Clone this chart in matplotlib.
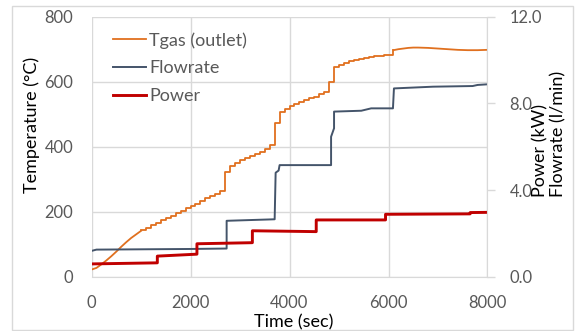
import matplotlib
matplotlib.use("Agg")
import matplotlib.pyplot as plt
from matplotlib.patches import Rectangle

# ---------------- data ----------------
# Tgas (outlet), smooth start (sec, degC)
tgas_start_t = [0, 100, 200, 300, 400, 500, 600, 700, 800, 900, 1000]
tgas_start_v = [22, 27, 38, 50, 63, 77, 92, 106, 119, 130, 141]
# stepped middle part (sec, degC)
tgas_step_t = [1000, 1100, 1200, 1300, 1400, 1500, 1600, 1700, 1800, 1900,
               2000, 2100, 2200, 2300, 2400, 2500, 2600, 2700, 2800, 2900,
               3000, 3100, 3200, 3300, 3400, 3500, 3600, 3700, 3800, 3900,
               4000, 4100, 4200, 4300, 4400, 4500, 4600, 4700, 4800, 4900,
               5000, 5100, 5200, 5300, 5400, 5500, 5600, 5700, 5800, 5900,
               6000, 6100]
tgas_step_v = [143, 150, 158, 166, 174, 181, 188, 195, 203, 210,
               218, 225, 233, 241, 249, 256, 264, 323, 340, 350,
               358, 364, 371, 377, 384, 392, 405, 474, 508, 516,
               524, 531, 538, 544, 549, 554, 561, 569, 600, 646,
               652, 658, 663, 667, 671, 674, 676, 678, 680, 681,
               683, 697]
# smooth end (sec, degC)
tgas_end_t = [6100, 6200, 6300, 6400, 6500, 6600, 6800, 7000, 7200, 7400, 7600, 7800, 8000]
tgas_end_v = [697, 700, 702, 704, 705, 705, 704, 702, 700, 698, 697, 697, 698]

# Flowrate (sec, l/min)
flow_t = [0, 100, 2000, 2730, 2730, 3700, 3720, 3780, 3800, 4840, 4840, 4900, 4900,
          5450, 5650, 6090, 6110, 6900, 7700, 7800, 8000]
flow_v = [1.19, 1.25, 1.28, 1.30, 2.58, 2.65, 4.80, 4.90, 5.15, 5.15, 6.46, 6.85, 7.62,
          7.66, 7.77, 7.77, 8.69, 8.77, 8.80, 8.85, 8.88]

# Power (sec, kW)
power_t = [0, 1330, 1330, 2130, 2130, 3250, 3250, 4540, 4540, 5940, 5940, 7650, 7650, 8000]
power_v = [0.59, 0.64, 0.95, 1.04, 1.52, 1.57, 2.12, 2.08, 2.62, 2.62, 2.88, 2.90, 2.96, 2.97]

x_ticks = [0, 2000, 4000, 6000, 8000]
t_ticks = [0, 200, 400, 600, 800]
r_ticks = [0.0, 4.0, 8.0, 12.0]

# ---------------- style ----------------
plt.rcParams['font.family'] = ['Lato', 'DejaVu Sans']
W, H = 581, 331
fig = plt.figure(figsize=(W / 100, H / 100), dpi=100)

def fx(px):
    return px / W

def fy(py):
    return 1 - py / H

# outer border
fig.patches.append(Rectangle((fx(12), fy(330)), fx(573) - fx(12), fy(5.7) - fy(330),
                             transform=fig.transFigure, fill=False,
                             edgecolor='#D9D9D9', linewidth=1.0))

L, R, T, B = 91.5, 487.5, 16.7, 276.7
ax = fig.add_axes([fx(L), fy(B), fx(R) - fx(L), fy(T) - fy(B)])
ax2 = ax.twinx()

c_tgas = '#E0701F'
c_flow = '#44546A'
c_pow = '#C00000'
c_grid = '#D9D9D9'
c_tick = '#595959'

l1, = ax.plot(tgas_start_t, tgas_start_v, color=c_tgas, lw=1.3)
ax.plot(tgas_step_t, tgas_step_v, color=c_tgas, lw=1.3, drawstyle='steps-post')
ax.plot(tgas_end_t, tgas_end_v, color=c_tgas, lw=1.3)

l2, = ax2.plot(flow_t, flow_v, color=c_flow, lw=1.4)
l3, = ax2.plot(power_t, power_v, color=c_pow, lw=2.1)

ax.set_xlim(0, 8000)
ax.set_ylim(0, 800)
ax2.set_ylim(0, 12)
ax.set_xticks(x_ticks)
ax.set_yticks(t_ticks)
ax2.set_yticks(r_ticks)
ax2.set_yticklabels([f'{v:.1f}' for v in r_ticks])

ax.grid(True, color=c_grid, lw=1.0)
ax.set_axisbelow(True)
for s in ['top', 'right', 'left']:
    ax.spines[s].set_visible(False)
ax.spines['bottom'].set_color(c_grid)
for s in ['top', 'left', 'bottom']:
    ax2.spines[s].set_visible(False)
ax2.spines['right'].set_color(c_grid)

ax.tick_params(axis='x', length=0, pad=13, labelsize=11.9, labelcolor=c_tick)
ax.tick_params(axis='y', length=0, pad=13, labelsize=11.9, labelcolor=c_tick)
ax2.tick_params(axis='y', length=6, width=1, color=c_grid, pad=10, labelsize=11.9,
                labelcolor=c_tick)

# axis titles
fig.text(fx(31.5), fy(125), 'Temperature (°C)', rotation=90, ha='center', va='center',
         fontsize=13, color='black')
fig.text(fx(294), fy(322), 'Time (sec)', ha='center', va='center', fontsize=13, color='black')
fig.text(fx(549), fy(197), 'Power (kW)\nFlowrate (l/min)', rotation=90, ha='center',
         va='bottom', multialignment='left', fontsize=13, color='black', linespacing=1.15)

leg = ax.legend([l1, l2, l3], ['Tgas (outlet)', 'Flowrate', 'Power'],
                loc='upper left', bbox_to_anchor=(fx(113), fy(32)),
                bbox_transform=fig.transFigure, frameon=False, fontsize=13,
                handlelength=1.85, handletextpad=0.15, labelspacing=0.65,
                borderpad=0, borderaxespad=0)
for t in leg.get_texts():
    t.set_color(c_tick)

fig.savefig('out.png', dpi=100)
